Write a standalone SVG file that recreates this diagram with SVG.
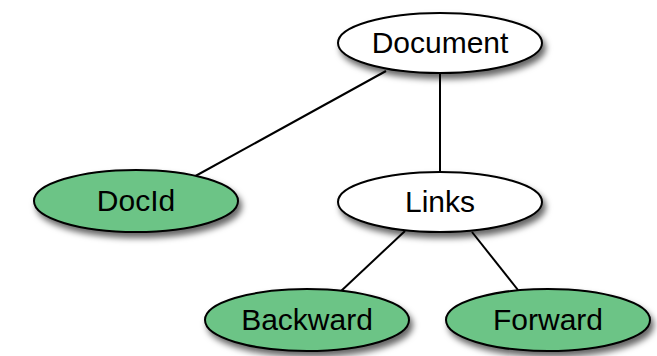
<svg xmlns="http://www.w3.org/2000/svg" width="657" height="356" viewBox="0 0 657 356">
  <defs>
    <filter id="shadow" x="-20%" y="-30%" width="150%" height="170%">
      <feDropShadow dx="3" dy="5" stdDeviation="3" flood-color="#000" flood-opacity="0.6"/>
    </filter>
    <style>
      .node ellipse { stroke: #000; stroke-width: 2; filter: url(#shadow); }
      .plain ellipse { fill: #fff; }
      .leaf ellipse { fill: #6cc486; }
      .node text { font-family: "Liberation Sans", Arial, sans-serif; font-size: 30px; fill: #000; text-anchor: middle; }
      .edges line { stroke: #000; stroke-width: 2; }
    </style>
  </defs>
  <rect width="657" height="356" fill="#fff"/>

  <g id="connectors" class="edges">
    <line x1="386" y1="71" x2="190" y2="179"/>
    <line x1="440" y1="73" x2="440" y2="172"/>
    <line x1="405" y1="231" x2="340" y2="292"/>
    <line x1="472" y1="232" x2="518" y2="290"/>
  </g>

  <g id="document" class="node plain">
    <ellipse cx="440" cy="43" rx="102" ry="30"/>
    <text x="440" y="53">Document</text>
  </g>
  <g id="docid" class="node leaf">
    <ellipse cx="136" cy="201" rx="102" ry="31"/>
    <text x="136" y="211">DocId</text>
  </g>
  <g id="links" class="node plain">
    <ellipse cx="440" cy="202" rx="102" ry="30"/>
    <text x="440" y="212">Links</text>
  </g>
  <g id="backward" class="node leaf">
    <ellipse cx="307" cy="320" rx="102" ry="31"/>
    <text x="307" y="330">Backward</text>
  </g>
  <g id="forward" class="node leaf">
    <ellipse cx="548" cy="320" rx="102" ry="31"/>
    <text x="548" y="330">Forward</text>
  </g>
</svg>
